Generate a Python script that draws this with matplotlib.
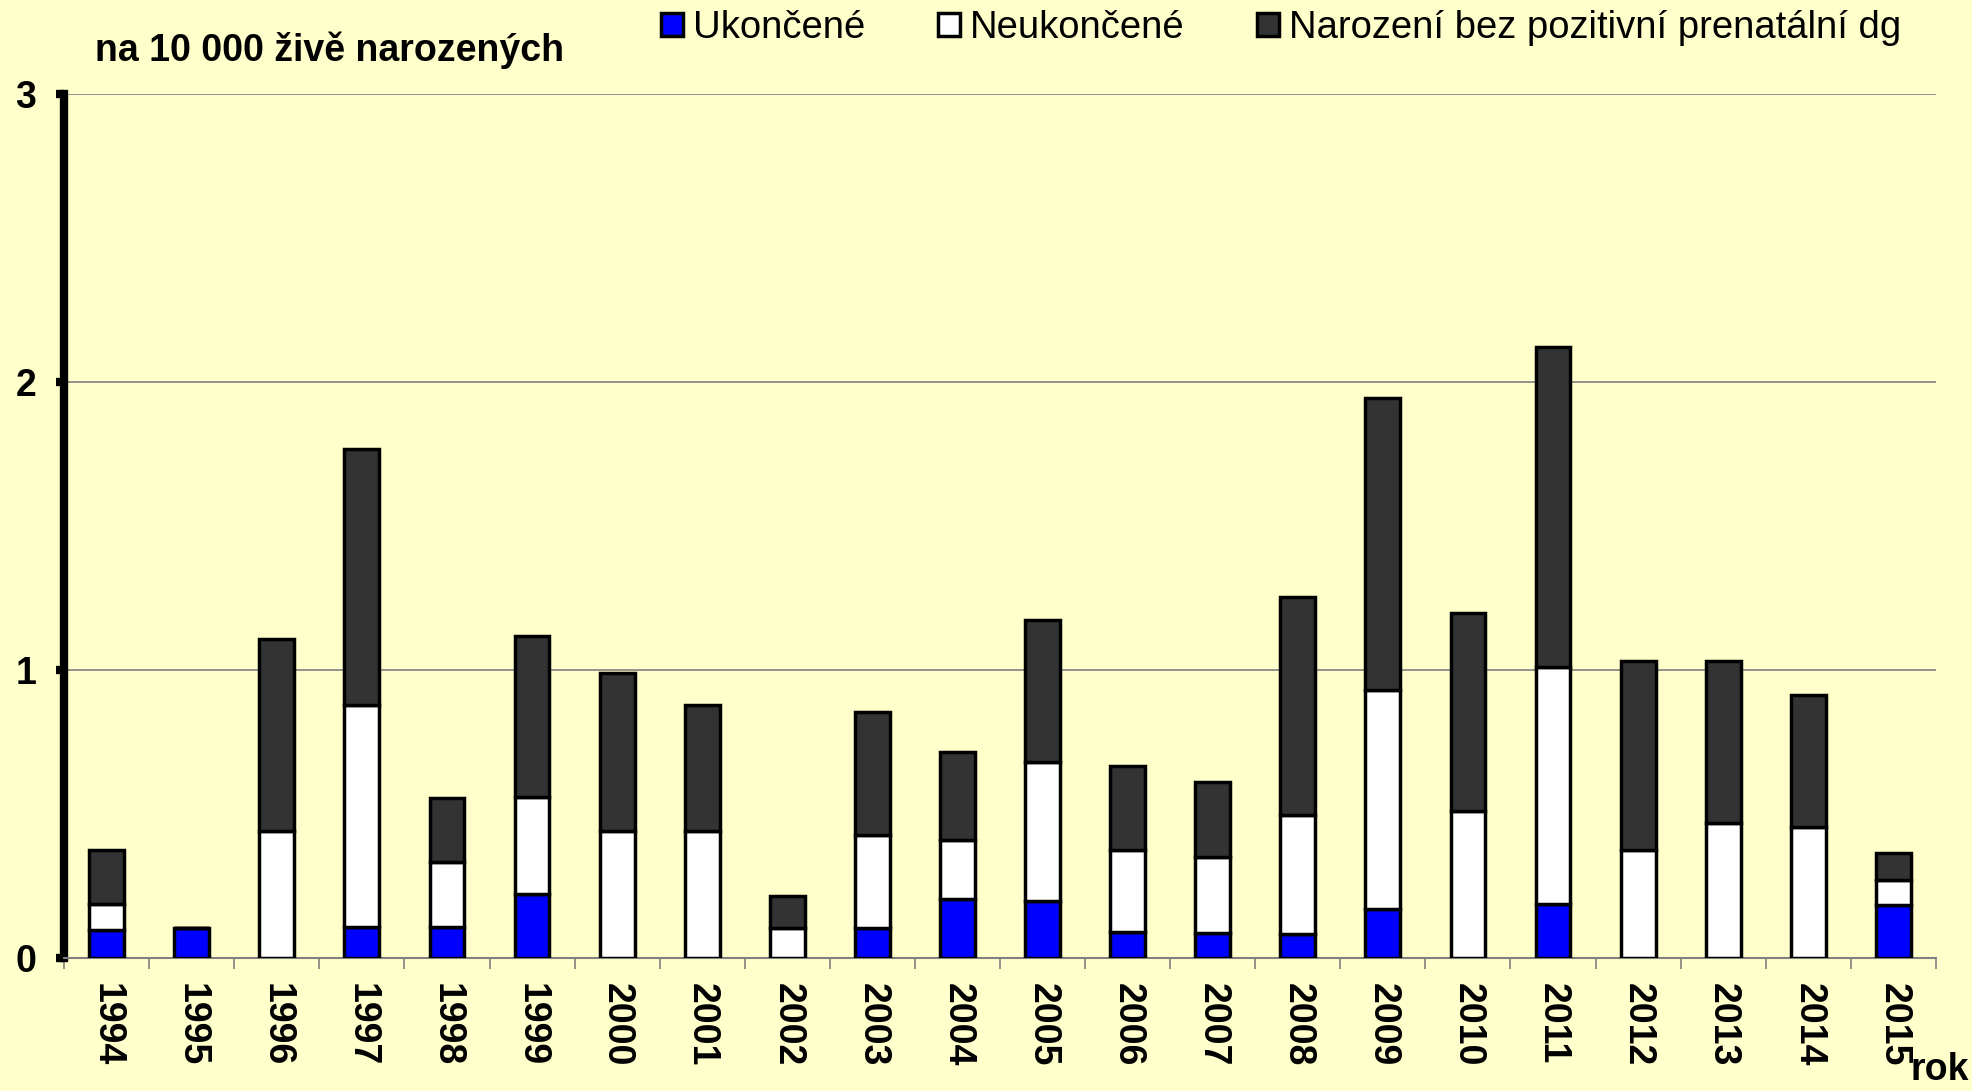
import numpy as np
import matplotlib.pyplot as plt

plt.rcParams['font.family'] = ['Liberation Sans', 'DejaVu Sans']

# data: podíly na 10 000 živě narozených
roky = ['1994', '1995', '1996', '1997', '1998', '1999', '2000', '2001', '2002', '2003', '2004',
        '2005', '2006', '2007', '2008', '2009', '2010', '2011', '2012', '2013', '2014', '2015']
ukoncene = [0.096, 0.105, 0, 0.109, 0.109, 0.223, 0, 0, 0, 0.105, 0.205,
            0.197, 0.092, 0.087, 0.083, 0.170, 0, 0.188, 0, 0, 0, 0.184]
neukoncene = [0.092, 0, 0.440, 0.770, 0.223, 0.337, 0.440, 0.440, 0.105, 0.323, 0.206,
              0.485, 0.284, 0.263, 0.415, 0.761, 0.512, 0.822, 0.376, 0.468, 0.455, 0.087]
narozeni = [0.188, 0, 0.666, 0.888, 0.223, 0.559, 0.548, 0.439, 0.109, 0.425, 0.306,
            0.490, 0.289, 0.262, 0.757, 1.015, 0.686, 1.111, 0.656, 0.564, 0.459, 0.092]
nazvy = ['Ukončené', 'Neukončené', 'Narození bez pozitivní prenatální dg']

bg = '#FFFFCC'
fig = plt.figure(figsize=(19.72, 10.91), dpi=100, facecolor=bg)
ax = fig.add_axes([0.0325, 0.1219, 0.9492, 0.7919])
ax.set_facecolor(bg)

x = np.arange(len(roky))
u = np.array(ukoncene)
n = np.array(neukoncene)
b = np.array(narozeni)
w = 0.41
h1 = ax.bar(x, u, w, color='#0000FF', edgecolor='black', linewidth=2.5, zorder=3)
h2 = ax.bar(x, n, w, bottom=u, color='white', edgecolor='black', linewidth=2.5, zorder=3)
h3 = ax.bar(x, b, w, bottom=u + n, color='#333333', edgecolor='black', linewidth=2.5, zorder=3)

ax.set_xlim(-0.5, len(roky) - 0.5)
ax.set_ylim(0, 3)
ax.set_yticks([0, 1, 2, 3])
ax.set_yticklabels(['0', '1', '2', '3'], fontsize=27, fontweight='bold')
ax.yaxis.grid(True, color='#808080', linewidth=1.2, zorder=0)

ax.set_xticks(x)
ax.set_xticklabels(roky, rotation=-90, fontsize=27, fontweight='bold')
ax.set_xticks(np.arange(-0.5, len(roky), 1), minor=True)
ax.tick_params(axis='x', which='major', length=0, pad=18)
ax.tick_params(axis='x', which='minor', length=8, width=1.2, color='#808080')
ax.tick_params(axis='y', length=6, width=6, pad=14)

ax.spines['top'].set_visible(False)
ax.spines['right'].set_visible(False)
ax.spines['left'].set_linewidth(6)
ax.spines['bottom'].set_color('#808080')
ax.spines['bottom'].set_linewidth(1.5)

fig.text(0.048, 0.954, 'na 10 000 živě narozených', fontsize=27, fontweight='bold', va='center')
fig.text(0.969, 0.003, 'rok', fontsize=27, fontweight='bold', va='bottom')

leg = fig.legend([h1, h2, h3], nazvy, loc='center left', bbox_to_anchor=(0.335, 0.974),
                 ncol=3, frameon=False, fontsize=27.5, handlelength=0.58, handleheight=0.55,
                 handletextpad=0.26, columnspacing=1.9, borderaxespad=0, borderpad=0)

fig.savefig('out.png', dpi=100, facecolor=bg)
